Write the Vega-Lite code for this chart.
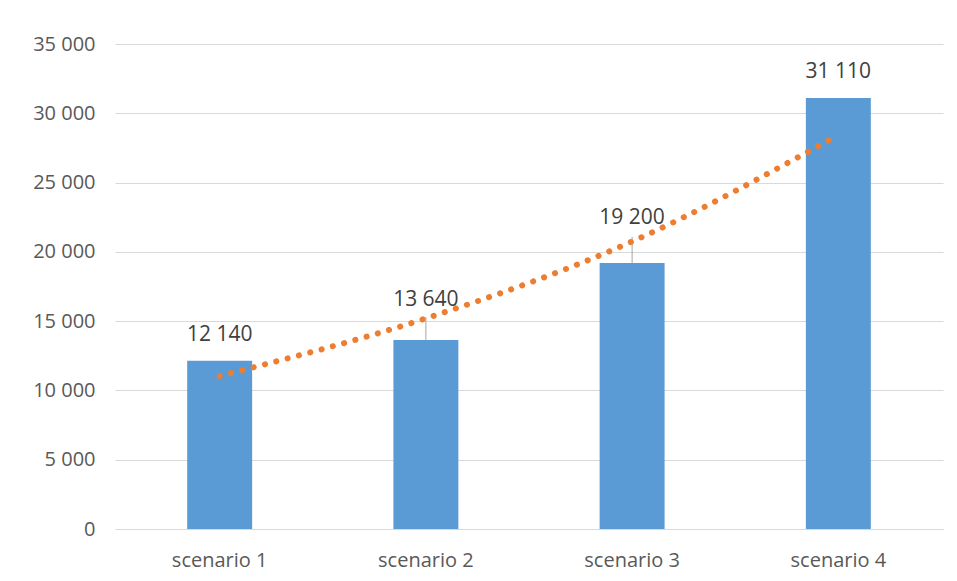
{
  "$schema": "https://vega.github.io/schema/vega-lite/v6.json",
  "autosize": "none",
  "width": 828,
  "height": 485,
  "padding": {"left": 115, "top": 44, "right": 14, "bottom": 52},
  "background": "white",
  "config": {
    "view": {"stroke": null},
    "font": "Open Sans",
    "locale": {"number": {"decimal": ",", "thousands": " ", "grouping": [3], "currency": ["", ""]}}
  },
  "data": {
    "values": [
      {"scenario": "scenario 1", "value": 12140, "trend": 11040},
      {"scenario": "scenario 2", "value": 13640, "trend": 15200},
      {"scenario": "scenario 3", "value": 19200, "trend": 20750},
      {"scenario": "scenario 4", "value": 31110, "trend": 28430}
    ]
  },
  "encoding": {
    "x": {
      "field": "scenario",
      "type": "nominal",
      "sort": null,
      "title": null,
      "scale": {"paddingInner": 0.685, "paddingOuter": 0.35},
      "axis": {
        "labelAngle": 0,
        "labelFontSize": 20,
        "labelColor": "#595959",
        "labelPadding": 21,
        "ticks": false,
        "domainColor": "#D9D9D9",
        "domainWidth": 1,
        "grid": false
      }
    }
  },
  "layer": [
    {
      "mark": {"type": "bar", "color": "#5B9BD5"},
      "encoding": {
        "y": {
          "field": "value",
          "type": "quantitative",
          "title": null,
          "scale": {"domain": [0, 35000]},
          "axis": {
            "values": [0, 5000, 10000, 15000, 20000, 25000, 30000, 35000],
            "format": ",d",
            "labelFontSize": 20,
            "labelColor": "#595959",
            "labelPadding": 20,
            "ticks": false,
            "domain": false,
            "gridColor": "#D9D9D9",
            "gridWidth": 1
          }
        }
      }
    },
    {
      "transform": [{"filter": "datum.scenario === 'scenario 2'"}],
      "mark": {"type": "rule", "color": "#A6A6A6", "strokeWidth": 1, "y2Offset": -23},
      "encoding": {
        "y": {"field": "value", "type": "quantitative"},
        "y2": {"field": "value"}
      }
    },
    {
      "transform": [{"filter": "datum.scenario === 'scenario 3'"}],
      "mark": {"type": "rule", "color": "#A6A6A6", "strokeWidth": 1, "y2Offset": -26},
      "encoding": {
        "y": {"field": "value", "type": "quantitative"},
        "y2": {"field": "value"}
      }
    },
    {
      "mark": {
        "type": "line",
        "color": "#ED7D31",
        "strokeWidth": 6,
        "strokeCap": "round",
        "strokeDash": [0.1, 11.6],
        "interpolate": "monotone"
      },
      "encoding": {
        "y": {"field": "trend", "type": "quantitative"}
      }
    },
    {
      "transform": [{"filter": "datum.scenario === 'scenario 1' || datum.scenario === 'scenario 4'"}],
      "mark": {"type": "text", "fontSize": 21, "color": "#404040", "baseline": "middle", "dy": -26},
      "encoding": {
        "y": {"field": "value", "type": "quantitative"},
        "text": {"field": "value", "type": "quantitative", "format": ",d"}
      }
    },
    {
      "transform": [{"filter": "datum.scenario === 'scenario 2'"}],
      "mark": {"type": "text", "fontSize": 21, "color": "#404040", "baseline": "middle", "dy": -40},
      "encoding": {
        "y": {"field": "value", "type": "quantitative"},
        "text": {"field": "value", "type": "quantitative", "format": ",d"}
      }
    },
    {
      "transform": [{"filter": "datum.scenario === 'scenario 3'"}],
      "mark": {"type": "text", "fontSize": 21, "color": "#404040", "baseline": "middle", "dy": -45},
      "encoding": {
        "y": {"field": "value", "type": "quantitative"},
        "text": {"field": "value", "type": "quantitative", "format": ",d"}
      }
    }
  ]
}
